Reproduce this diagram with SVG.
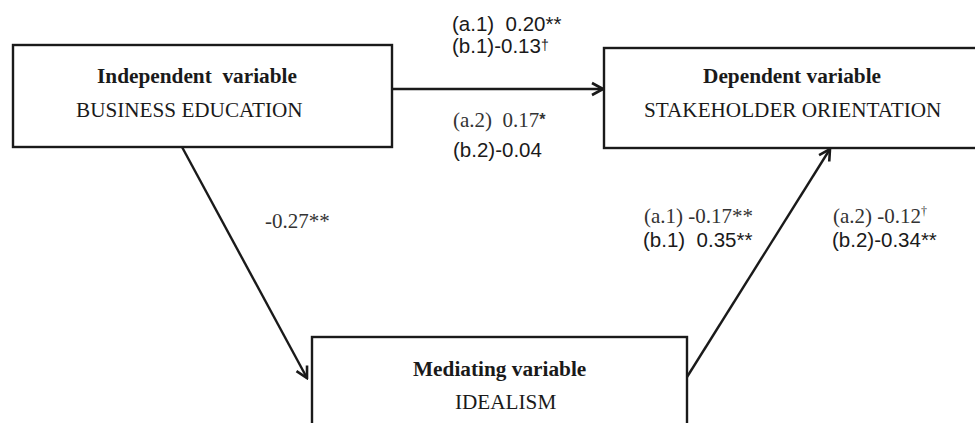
<svg xmlns="http://www.w3.org/2000/svg" width="975" height="423" viewBox="0 0 975 423">
<style>
text{white-space:pre}
.box{fill:#fff;stroke:#1a1a1a;stroke-width:2.4}
.edge{fill:none;stroke:#1a1a1a;stroke-width:2.4}
.ttl{font-family:"Liberation Serif",serif;font-weight:bold;font-size:21.3px;fill:#1a1a1a}
.sub{font-family:"Liberation Serif",serif;font-size:21.2px;fill:#1a1a1a}
.ser{font-family:"Liberation Serif",serif;font-size:21px;fill:#333}
.san{font-family:"Liberation Sans",sans-serif;font-size:20.5px;fill:#1a1a1a}
</style>
<defs>
<marker id="arr" viewBox="-13 -8 15 16" refX="0" refY="0" markerWidth="15" markerHeight="16" markerUnits="userSpaceOnUse" orient="auto">
<path d="M-11,-6 L0,0 L-11,6" fill="none" stroke="#1a1a1a" stroke-width="2.6"/>
</marker>
</defs>
<g id="connectors">
<line class="edge" x1="392" y1="89" x2="603" y2="89" marker-end="url(#arr)"/>
<line class="edge" x1="182" y1="147" x2="307" y2="378" marker-end="url(#arr)"/>
<line class="edge" x1="687" y1="377" x2="830" y2="149" marker-end="url(#arr)"/>
</g>
<g id="node-independent">
<rect class="box" x="13" y="45" width="379" height="102"/>
<text class="ttl" x="97" y="83">Independent  variable</text>
<text class="sub" x="76" y="117">BUSINESS EDUCATION</text>
</g>
<g id="node-dependent">
<rect class="box" x="604" y="48" width="385" height="100"/>
<text class="ttl" x="703" y="83">Dependent variable</text>
<text class="sub" x="644" y="117">STAKEHOLDER ORIENTATION</text>
</g>
<g id="node-mediating">
<rect class="box" x="312" y="337" width="375" height="110"/>
<text class="ttl" x="413" y="376">Mediating variable</text>
<text class="sub" x="455" y="409">IDEALISM</text>
</g>
<g id="labels">
<text class="san" x="452" y="31">(a.1)  0.20**</text>
<text class="san" x="452" y="53">(b.1)-0.13<tspan font-size="14" dy="-3">†</tspan></text>
<text class="ser" x="453" y="127">(a.2)  0.17<tspan font-family="Liberation Sans" font-weight="bold" font-size="16" dy="-2">*</tspan></text>
<text class="san" x="453" y="157">(b.2)-0.04</text>
<text class="ser" x="265" y="228">-0.27**</text>
<text class="ser" x="644" y="223">(a.1) -0.17**</text>
<text class="san" x="643" y="247">(b.1)  0.35**</text>
<text class="ser" x="833" y="223">(a.2) -0.12<tspan font-size="12" dy="-8">†</tspan></text>
<text class="san" x="832" y="247">(b.2)-0.34**</text>
</g>
</svg>
